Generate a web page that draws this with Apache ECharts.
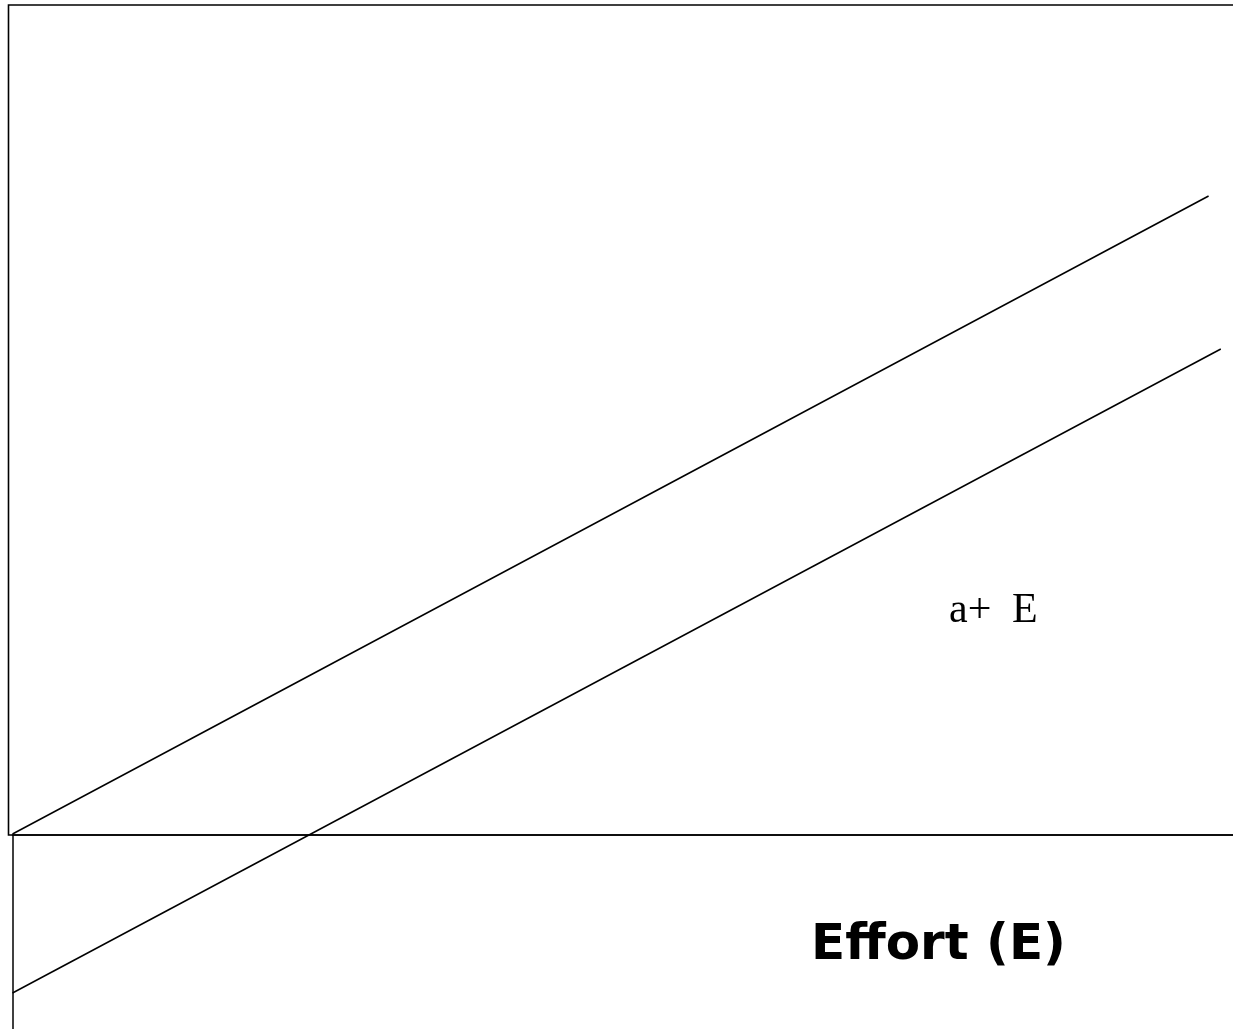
<!DOCTYPE html>
<html>
<head>
<meta charset="utf-8">
<script src="https://cdn.jsdelivr.net/npm/echarts@6/dist/echarts.min.js"></script>
<style>
  html, body { margin: 0; padding: 0; background: #fff; }
  #chart { width: 1233px; height: 1029px; }
</style>
</head>
<body>
<div id="chart"></div>
<script>
// effort on x, value on y (arbitrary units)
const effortRange = [0, 100];
const valueRange = [-19.4, 83];
const upperLine = [[0, 0.1], [98, 63.9]];
const lowerLine = [[0, -15.8], [99, 48.6]];
const verticalStub = [[0, -19.4], [0, 0]];

const chart = echarts.init(document.getElementById('chart'));

chart.setOption({
  animation: false,
  backgroundColor: '#fff',
  grid: { left: 12.5, right: 0, top: 5, bottom: 0 },
  xAxis: {
    type: 'value',
    min: effortRange[0],
    max: effortRange[1],
    axisLine: { show: true, onZero: true, lineStyle: { color: '#000', width: 1.6 } },
    axisTick: { show: false },
    axisLabel: { show: false },
    splitLine: { show: false }
  },
  yAxis: {
    type: 'value',
    min: valueRange[0],
    max: valueRange[1],
    show: false,
    splitLine: { show: false }
  },
  series: [
    {
      type: 'line',
      data: upperLine,
      symbol: 'none',
      lineStyle: { color: '#000', width: 1.5 },
      silent: true
    },
    {
      type: 'line',
      data: lowerLine,
      symbol: 'none',
      lineStyle: { color: '#000', width: 1.5 },
      silent: true,
      markLine: {
        silent: true,
        symbol: 'none',
        label: { show: false },
        lineStyle: { color: '#000', width: 1.5, type: 'solid' },
        data: [[{ coord: verticalStub[0] }, { coord: verticalStub[1] }]]
      }
    }
  ],
  graphic: [
    {
      type: 'rect',
      shape: { x: 8.5, y: 5, width: 1240, height: 830 },
      style: { fill: 'none', stroke: '#000', lineWidth: 1.6 },
      silent: true
    },
    {
      type: 'text',
      x: 949,
      y: 611,
      style: {
        text: '{a|a+ }{b|E}',
        verticalAlign: 'middle',
        rich: {
          a: { width: 63, fontFamily: '"Liberation Serif", serif', fontSize: 42, fill: '#000' },
          b: { fontFamily: '"Liberation Serif", serif', fontSize: 42, fill: '#000' }
        }
      }
    },
    {
      type: 'text',
      x: 938.5,
      y: 946,
      style: {
        text: 'Effort (E)',
        align: 'center',
        verticalAlign: 'middle',
        fontFamily: '"DejaVu Sans", sans-serif',
        fontWeight: 'bold',
        fontSize: 50,
        fill: '#000'
      }
    }
  ]
});
</script>
</body>
</html>
